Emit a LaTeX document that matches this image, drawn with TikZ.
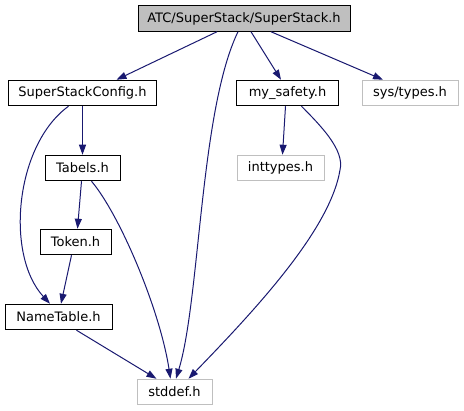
\documentclass[tikz,border=0pt]{standalone}
\usepackage{fontspec}
\setmainfont{DejaVu Sans}
\usetikzlibrary{arrows.meta}
\definecolor{edgeblue}{HTML}{191970}
\definecolor{extgray}{HTML}{BFBFBF}

\begin{document}
\begin{tikzpicture}[x=1pt,y=-1pt,>={Triangle[length=10pt,width=7pt]},
  file/.style={draw=black,line width=1pt,minimum height=25.5pt,inner sep=0pt,font=\fontsize{13}{15}\selectfont},
  extfile/.style={file,draw=extgray},
  dep/.style={->,draw=edgeblue,line width=1pt}]
 \useasboundingbox (0,0) rectangle (464,411);
 \node[file,fill=extgray,minimum width=212pt] (root) at (244,18.5) {ATC/SuperStack/SuperStack.h};
 \node[file,minimum width=148pt] (cfg) at (82.5,93) {SuperStackConfig.h};
 \node[file,minimum width=102pt] (safety) at (287.5,93) {my\_safety.h};
 \node[extfile,minimum width=96pt] (types) at (410,93) {sys/types.h};
 \node[file,minimum width=75pt] (tabels) at (82.5,168) {Tabels.h};
 \node[extfile,minimum width=87pt] (inttypes) at (280.5,168) {inttypes.h};
 \node[file,minimum width=71pt] (token) at (75.5,242) {Token.h};
 \node[file,minimum width=107pt] (nametable) at (58.5,317) {NameTable.h};
 \node[extfile,minimum width=75pt] (stddef) at (174.5,392) {stddef.h};
 % straight edges
 \draw[dep] ([xshift=-27pt]root.south) -- ([xshift=34pt]cfg.north);
 \draw[dep] ([xshift=7pt]root.south) -- ([xshift=-6.5pt]safety.north);
 \draw[dep] ([xshift=27pt]root.south) -- ([xshift=-27pt]types.north);
 \draw[dep] (cfg.south) -- (tabels.north);
 \draw[dep] ([xshift=-2pt]safety.south) -- ([xshift=2pt]inttypes.north);
 \draw[dep] ([xshift=-1pt]tabels.south) -- ([xshift=2pt]token.north);
 \draw[dep] ([xshift=-4pt]token.south) -- ([xshift=2.5pt]nametable.north);
 \draw[dep] ([xshift=18pt]nametable.south) -- ([xshift=-18pt]stddef.north);
 % curved edges
 \draw[dep] ([xshift=-6pt]root.south) .. controls (200,110) and (200,300) .. ([xshift=1.5pt]stddef.north);
 \draw[dep] ([xshift=-14pt]cfg.south) .. controls (15,145) and (5,255) .. ([xshift=-8.5pt]nametable.north);
 \draw[dep] ([xshift=14pt]safety.south) .. controls (320,125) and (345,150) .. (340,170)
   .. controls (330,230) and (255,310) .. ([xshift=14pt]stddef.north);
 \draw[dep] ([xshift=9pt]tabels.south) .. controls (120,215) and (160,310) .. ([xshift=-4pt]stddef.north);
\end{tikzpicture}
\end{document}
